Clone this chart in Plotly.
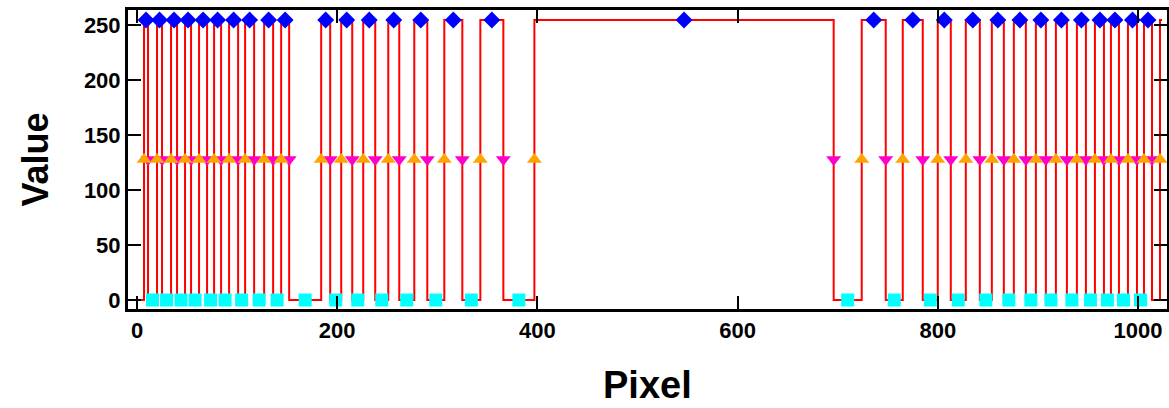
import plotly.graph_objects as go

# Edge positions (pixel index)
rise_edges = [7, 20, 34, 48, 62, 77, 92, 108, 127, 144, 184, 204, 226, 251, 277, 307,
              343, 397, 724, 765, 800, 828, 854, 876, 898, 918, 939, 957, 973, 990, 1006, 1022]
fall_edges = [11, 25, 40, 54, 70, 84, 101, 117, 136, 152, 193, 215, 238, 262, 290, 325,
              366, 696, 748, 785, 813, 842, 866, 888, 908, 929, 948, 966, 981, 999, 1014]
# Centres of bars (high) and spaces (low)
high_centers = [9, 22.5, 37, 51, 66, 80.5, 96.5, 112.5, 131.5, 148, 188.5, 209.5, 232,
                256.5, 283.5, 316, 354.5, 546.5, 736, 775, 806.5, 835, 860, 882, 903,
                923.5, 943.5, 962, 977, 994.5, 1010]
low_centers = [15.5, 29.5, 44, 58, 73.5, 88, 104.5, 122, 140, 168, 198.5, 220.5, 244.5,
               269.5, 298.5, 334, 381.5, 710, 756.5, 792.5, 820.5, 848, 871, 893, 913,
               934, 952.5, 969.5, 985.5, 1002.5]
x_start, x_end = 0, 1024
low_value, high_value, mid_value = 0, 255, 128
x_title, y_title = "Pixel", "Value"

# Build the step profile from the edges
edges = sorted([(e, high_value) for e in rise_edges] + [(e, low_value) for e in fall_edges])
line_x = [x_start] + [e for e, _ in edges] + [x_end]
line_y = [low_value] + [v for _, v in edges] + [edges[-1][1]]

fig = go.Figure()
fig.add_trace(go.Scatter(x=line_x, y=line_y, mode="lines", line_shape="hv",
                         line=dict(color="#ff0000", width=2), showlegend=False))
fig.add_trace(go.Scatter(x=high_centers, y=[high_value] * len(high_centers), mode="markers",
                         marker=dict(symbol="diamond", size=13, color="#0000ff"), showlegend=False))
fig.add_trace(go.Scatter(x=low_centers, y=[low_value] * len(low_centers), mode="markers",
                         marker=dict(symbol="square", size=13, color="#00ffff"), showlegend=False))
fig.add_trace(go.Scatter(x=fall_edges, y=[mid_value] * len(fall_edges), mode="markers",
                         marker=dict(symbol="triangle-down", size=13, color="#ff00cc"), showlegend=False))
fig.add_trace(go.Scatter(x=rise_edges, y=[mid_value] * len(rise_edges), mode="markers",
                         marker=dict(symbol="triangle-up", size=13, color="#ffa500"), showlegend=False))

font_family = "Liberation Sans, Arial, sans-serif"
axis_common = dict(showgrid=False, zeroline=False, showline=True, linecolor="black",
                   linewidth=3, mirror="allticks", ticks="inside", ticklen=13, tickwidth=2,
                   tickcolor="black", automargin=False,
                   tickfont=dict(family=font_family, size=22, color="black", weight="bold"))
fig.update_xaxes(range=[-9, 1029], tickvals=[0, 200, 400, 600, 800, 1000], **axis_common)
fig.update_yaxes(range=[-8.2, 264.1], tickvals=[0, 50, 100, 150, 200, 250], **axis_common)
fig.add_annotation(text=f"<b>{x_title}</b>", xref="paper", yref="paper", x=0.5, y=-0.254,
                   xanchor="center", yanchor="middle", showarrow=False,
                   font=dict(family=font_family, size=38, color="black"))
fig.add_annotation(text=f"<b>{y_title}</b>", xref="paper", yref="paper", x=-0.0895, y=0.5,
                   xanchor="center", yanchor="middle", showarrow=False, textangle=-90,
                   font=dict(family=font_family, size=36, color="black"))
fig.update_layout(width=1169, height=408, margin=dict(l=128, r=2, t=10, b=99),
                  plot_bgcolor="white", paper_bgcolor="white")
fig.write_html("out.html", config={"displayModeBar": False},
               post_script="document.body.style.margin='0';document.body.style.overflow='hidden';")
